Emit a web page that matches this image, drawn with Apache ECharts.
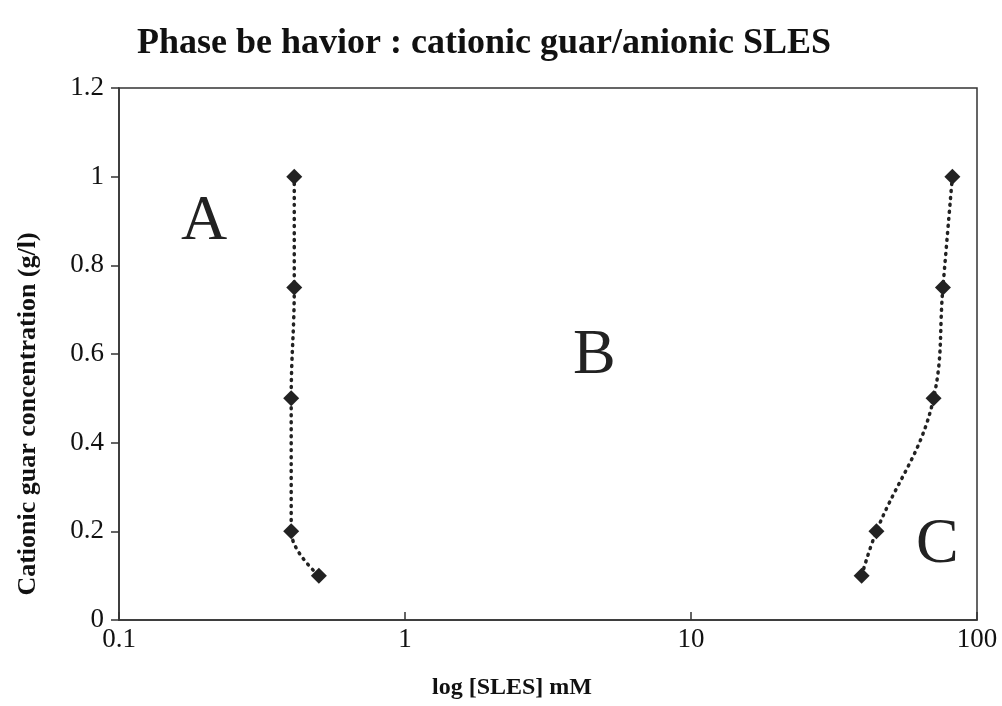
<!DOCTYPE html>
<html>
<head>
<meta charset="utf-8">
<script src="https://cdn.jsdelivr.net/npm/echarts@6/dist/echarts.min.js"></script>
<style>
  html, body { margin: 0; padding: 0; background: #fff; }
  #main { width: 1002px; height: 706px; }
</style>
</head>
<body>
<div id="main"></div>
<script type="text/javascript">
    // data: [SLES mM, guar g/l]
    var boundaryAB = [[0.41, 1.0], [0.41, 0.75], [0.40, 0.5], [0.40, 0.2], [0.50, 0.1]];
    var boundaryBC = [[82, 1.0], [76, 0.75], [70.5, 0.5], [44.5, 0.2], [39.5, 0.1]];
    var xTicks = [0.1, 1, 10, 100];
    var yTicks = [0, 0.2, 0.4, 0.6, 0.8, 1, 1.2];

    var serif = '"Liberation Serif", "DejaVu Serif", serif';
    var ink = '#222';

    function lineSeries(name, pts) {
        return {
            name: name,
            type: 'line',
            data: pts,
            smooth: 0.4,
            symbol: 'diamond',
            symbolSize: 16,
            itemStyle: { color: ink },
            lineStyle: { color: ink, width: 3.5, type: [1, 6], cap: 'round' },
            z: 3
        };
    }

    var chart = echarts.init(document.getElementById('main'));
    chart.setOption({
        animation: false,
        title: {
            text: 'Phase be havior : cationic guar/anionic SLES',
            left: 132,
            top: 21,
            textStyle: { fontFamily: serif, fontSize: 36, fontWeight: 'bold', color: '#111' }
        },
        grid: {
            left: 119, right: 25, top: 88, bottom: 86,
            show: true, borderColor: '#333', borderWidth: 1.5, backgroundColor: '#fff'
        },
        xAxis: {
            type: 'log',
            logBase: 10,
            min: xTicks[0],
            max: xTicks[xTicks.length - 1],
            axisLine: { lineStyle: { color: '#333', width: 1.5 } },
            axisTick: { inside: true, length: 8, lineStyle: { color: '#333', width: 1.5 } },
            minorTick: { show: false },
            splitLine: { show: false },
            axisLabel: {
                fontFamily: serif, fontSize: 27, color: '#111', margin: 6,
                formatter: function (v) { return String(v); }
            }
        },
        yAxis: {
            type: 'value',
            min: yTicks[0],
            max: yTicks[yTicks.length - 1],
            interval: 0.2,
            axisLine: { lineStyle: { color: '#333', width: 1.5 } },
            axisTick: { inside: false, length: 8, lineStyle: { color: '#333', width: 1.5 } },
            splitLine: { show: false },
            axisLabel: {
                fontFamily: serif, fontSize: 27, color: '#111', margin: 15,
                formatter: function (v) { return String(Math.round(v * 10) / 10); }
            }
        },
        graphic: [
            // axis titles sit off-centre in the original, so they are placed by hand
            {
                type: 'text', x: 512, y: 688,
                style: { text: 'log [SLES] mM', font: 'bold 24px ' + serif, fill: '#111',
                         align: 'center', verticalAlign: 'middle' }
            },
            {
                type: 'text', x: 28, y: 414, rotation: Math.PI / 2,
                style: { text: 'Cationic guar concentration (g/l)', font: 'bold 26px ' + serif, fill: '#111',
                         align: 'center', verticalAlign: 'middle' }
            },
            { type: 'text', left: 181, top: 190, style: { text: 'A', font: '64px ' + serif, fill: '#222' } },
            { type: 'text', left: 573, top: 324, style: { text: 'B', font: '64px ' + serif, fill: '#222' } },
            { type: 'text', left: 916, top: 513, style: { text: 'C', font: '64px ' + serif, fill: '#222' } }
        ],
        series: [
            lineSeries('A/B boundary', boundaryAB),
            lineSeries('B/C boundary', boundaryBC)
        ]
    });
</script>
</body>
</html>
